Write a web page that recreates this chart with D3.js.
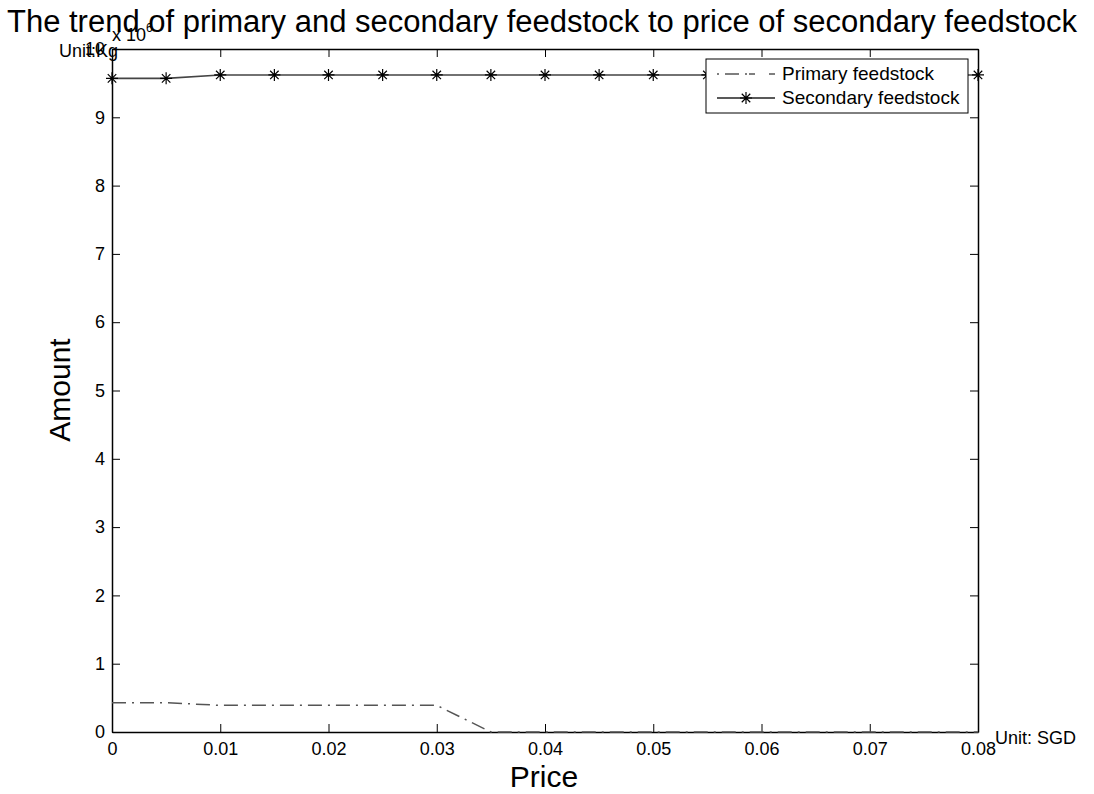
<!DOCTYPE html>
<html><head><meta charset="utf-8">
<script src="https://cdn.jsdelivr.net/npm/d3@7"></script>
<style>body{margin:0;background:#fff}svg{font-family:Arial,"Liberation Sans",sans-serif}</style>
</head><body>
<svg id="c" width="1094" height="794"></svg>
<script>
const prices = [0,0.005,0.01,0.015,0.02,0.025,0.03,0.035,0.04,0.045,0.05,0.055,0.06,0.065,0.07,0.075,0.08];
const primary = [0.43,0.43,0.39,0.39,0.39,0.39,0.39,0,0,0,0,0,0,0,0,0,0];
const secondary = [9.57,9.57,9.62,9.62,9.62,9.62,9.62,9.62,9.62,9.62,9.62,9.62,9.62,9.62,9.62,9.62,9.62];
const xTicks = [0,0.01,0.02,0.03,0.04,0.05,0.06,0.07,0.08];
const yTicks = [0,1,2,3,4,5,6,7,8,9,10];
const seriesNames = ["Primary feedstock","Secondary feedstock"];

const svg = d3.select("#c");
const L=112,R=978,T=49,B=732;
const x = d3.scaleLinear().domain([0,0.08]).range([L,R]);
const y = d3.scaleLinear().domain([0,10]).range([B,T]);
const FF = "Arial, Liberation Sans, sans-serif";

const fmt = d => d===0?"0":d3.format(".2f")(d);
const tl=8;
const gx = svg.append("g").attr("transform",`translate(0,${B})`)
  .call(d3.axisBottom(x).tickValues(xTicks).tickFormat(fmt).tickSizeInner(-tl).tickSizeOuter(0).tickPadding(10));
const gxt = svg.append("g").attr("transform",`translate(0,${T})`)
  .call(d3.axisTop(x).tickValues(xTicks).tickFormat("").tickSizeInner(-tl).tickSizeOuter(0));
const gy = svg.append("g").attr("transform",`translate(${L},0)`)
  .call(d3.axisLeft(y).tickValues(yTicks).tickFormat(d3.format("d")).tickSizeInner(-tl).tickSizeOuter(0).tickPadding(7));
const gyr = svg.append("g").attr("transform",`translate(${R},0)`)
  .call(d3.axisRight(y).tickValues(yTicks).tickFormat("").tickSizeInner(-tl).tickSizeOuter(0));
[gx,gxt,gy,gyr].forEach(g=>{
  g.selectAll("path").attr("stroke","#000").attr("stroke-width",1.5);
  g.selectAll("line").attr("stroke","#000").attr("stroke-width",1);
  g.selectAll("text").attr("font-size",18).attr("fill","#000").attr("font-family",FF);
});

const line = d3.line().x((d,i)=>x(prices[i])).y(d=>y(d));
svg.append("path").datum(primary).attr("d",line).attr("fill","none").attr("stroke","#555")
  .attr("stroke-width",1.5).attr("stroke-dasharray","14,6,2,6");
svg.append("path").datum(secondary).attr("d",line).attr("fill","none").attr("stroke","#444").attr("stroke-width",1.6);

function star(g,cx,cy,r){
  const s=r*0.707;
  g.append("path").attr("d",`M${cx-r},${cy}H${cx+r}M${cx},${cy-r}V${cy+r}M${cx-s},${cy-s}L${cx+s},${cy+s}M${cx-s},${cy+s}L${cx+s},${cy-s}`)
   .attr("stroke","#000").attr("stroke-width",1.2).attr("fill","none");
}
const mg = svg.append("g");
secondary.forEach((v,i)=>star(mg,x(prices[i]),y(v),6));

// legend
const lg = svg.append("g");
lg.append("rect").attr("x",706).attr("y",59).attr("width",262).attr("height",54).attr("fill","#fff").attr("stroke","#000").attr("stroke-width",1);
lg.append("line").attr("x1",717).attr("x2",775).attr("y1",74).attr("y2",74).attr("stroke","#555").attr("stroke-width",1.3).attr("stroke-dasharray","2,6,14,6,2");
lg.append("line").attr("x1",717).attr("x2",775).attr("y1",98).attr("y2",98).attr("stroke","#222").attr("stroke-width",1.3);
star(lg,746,98,6);
lg.append("text").attr("x",782).attr("y",80).attr("font-size",19).text(seriesNames[0]);
lg.append("text").attr("x",782).attr("y",104).attr("font-size",19).text(seriesNames[1]);

// texts
svg.append("text").attr("x",542).attr("y",32).attr("text-anchor","middle").attr("font-size",31)
  .text("The trend of primary and secondary feedstock to price of secondary feedstock");
svg.append("text").attr("x",59).attr("y",57).attr("font-size",18).text("Unit:Kg");
const ex = svg.append("text").attr("x",112).attr("y",41).attr("font-size",18);
ex.append("tspan").text("x 10");
ex.append("tspan").attr("dy",-9).attr("font-size",12).text("6");
svg.append("text").attr("x",995).attr("y",744).attr("font-size",18).text("Unit: SGD");
svg.append("text").attr("x",544).attr("y",787).attr("text-anchor","middle").attr("font-size",30).text("Price");
svg.append("text").attr("transform","translate(70,390) rotate(-90)").attr("text-anchor","middle").attr("font-size",30).text("Amount");
</script>
</body></html>
